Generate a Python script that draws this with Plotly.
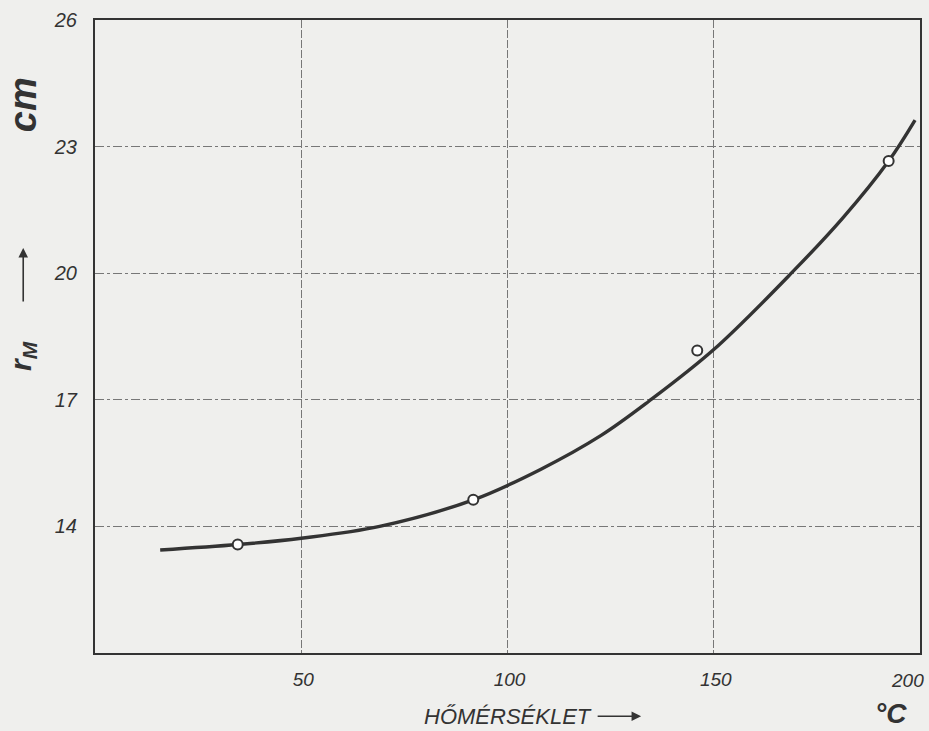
import plotly.graph_objects as go

# Measured points (temperature °C, r_M cm)
meas_t = [34.6, 91.7, 146.0, 192.4]
meas_r = [13.57, 14.63, 18.17, 22.66]

# Smooth fitted curve
curve_t = [15.8, 34.6, 50, 69, 91.7, 108, 122.6, 134.2, 150, 169.1, 181.2, 192.4, 198.8]
curve_r = [13.44, 13.57, 13.72, 14.0, 14.63, 15.35, 16.15, 16.96, 18.19, 20.03, 21.3, 22.66, 23.63]

x_ticks = [50, 100, 150, 200]
x_ticklabels = ["50", "100", "150", "200"]
y_ticks = [14, 17, 20, 23, 26]
y_ticklabels = ["14", "17", "20", "23", "26"]

ink = "#333333"
paper = "#efefed"
font_fam = "Liberation Sans, DejaVu Sans, sans-serif"
tick_font = dict(size=19, style="italic", color="#333")

fig = go.Figure()
fig.add_trace(go.Scatter(x=curve_t, y=curve_r, mode="lines",
                         line=dict(color=ink, width=3.4, shape="spline", smoothing=1.0),
                         hoverinfo="skip", showlegend=False))
fig.add_trace(go.Scatter(x=meas_t, y=meas_r, mode="markers",
                         marker=dict(symbol="circle", size=10, color="white",
                                     line=dict(color=ink, width=2)),
                         showlegend=False))

fig.update_layout(
    width=929, height=731, autosize=False,
    margin=dict(l=95, r=9, t=20, b=78, autoexpand=False),
    paper_bgcolor=paper, plot_bgcolor=paper,
    font=dict(family=font_fam, color="#333"),
    xaxis=dict(range=[0, 200], tickvals=x_ticks[:-1], ticktext=x_ticklabels[:-1],
               showgrid=True, gridcolor="#777", gridwidth=1, griddash="8px,2px",
               showline=True, mirror=True, linecolor="#333", linewidth=2,
               ticks="", zeroline=False, ticklabelstandoff=8, automargin=False,
               ticklabelshift=2,
               tickfont=tick_font),
    yaxis=dict(range=[11, 26], tickvals=y_ticks, ticktext=y_ticklabels,
               showgrid=True, gridcolor="#777", gridwidth=1, griddash="dashdot",
               showline=True, mirror=True, linecolor="#333", linewidth=2,
               ticks="", zeroline=False, ticklabelstandoff=12, automargin=False,
               ticklabeloverflow="allow",
               tickfont=dict(size=20, style="italic", color="#333")),
)

# last x label sits just inside the frame's right edge in the original
fig.add_annotation(text=x_ticklabels[-1], xref="x", yref="paper", x=x_ticks[-1], y=-0.043,
                   xanchor="right", yanchor="middle", xshift=6, showarrow=False,
                   font=tick_font)

fig.add_annotation(text="cm", xref="paper", yref="paper", x=-0.088, y=0.866,
                   xanchor="center", yanchor="middle",
                   showarrow=False, textangle=-90,
                   font=dict(size=38, color="#333", style="italic", weight="bold"))
fig.add_annotation(text="r<sub>M</sub>", xref="paper", yref="paper", x=-0.088, y=0.47,
                   xanchor="center", yanchor="middle",
                   showarrow=False, textangle=-90,
                   font=dict(size=30, color="#333", style="italic", weight="bold"))
fig.add_annotation(text="", xref="paper", yref="paper", x=-0.087, y=0.64,
                   ax=0, ay=55, showarrow=True, arrowhead=2, arrowsize=1.2,
                   arrowwidth=1.6, arrowcolor="#333")
fig.add_annotation(text="HŐMÉRSÉKLET", xref="paper", yref="paper", x=0.5, y=-0.1,
                   xanchor="center", yanchor="middle",
                   showarrow=False,
                   font=dict(size=22, color="#333", style="italic"))
fig.add_annotation(text="", xref="paper", yref="paper", x=0.662, y=-0.1,
                   ax=-45, ay=0, showarrow=True, arrowhead=2, arrowsize=1.2,
                   arrowwidth=1.6, arrowcolor="#333")
fig.add_annotation(text="°C", xref="paper", yref="paper", x=0.965, y=-0.095,
                   xanchor="center", yanchor="middle",
                   showarrow=False,
                   font=dict(size=28, color="#333", style="italic", weight="bold"))

fig.write_html(
    "out.html",
    config={"displayModeBar": False, "responsive": False},
    post_script=("document.body.style.margin='0';document.body.style.overflow='hidden';"
                 "Plotly.relayout(document.getElementById('{plot_id}'), {width: 929, height: 731});"),
)
